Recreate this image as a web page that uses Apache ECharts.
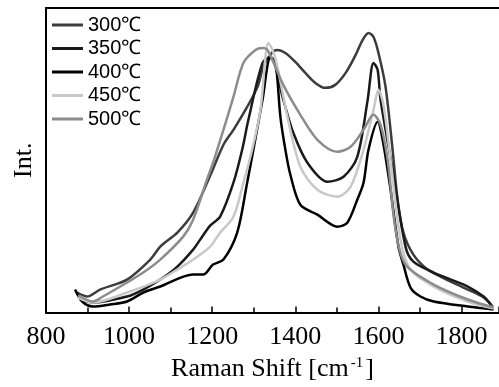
<!DOCTYPE html>
<html>
<head>
<meta charset="utf-8">
<script src="https://cdn.jsdelivr.net/npm/echarts@6/dist/echarts.min.js"></script>
<style>html,body{margin:0;padding:0;background:#fff;}#c{width:499px;height:387px;}</style>
</head>
<body>
<div id="c"></div>
<script>
// Legend labels
const seriesNames = ['300℃', '350℃', '400℃', '450℃', '500℃'];

// Raman shift (cm-1) and intensity (arb.) per series
const wn300  = [875, 899, 930, 995, 1051, 1075, 1116, 1154, 1195, 1227, 1251, 1284, 1309, 1323, 1345, 1357, 1376, 1400, 1424, 1448, 1472, 1496, 1521, 1545, 1562, 1576, 1588, 1600, 1617, 1634, 1646, 1660, 1684, 1718, 1749, 1815, 1853, 1875];
const int300 = [20, 16, 23, 33, 53, 66, 80, 100, 137, 168, 183, 206, 226, 246, 261, 263, 260, 251, 240, 230, 225, 228, 240, 258, 273, 280, 276, 260, 226, 163, 113, 80, 58, 43, 36, 23, 15, 6];

const wn350  = [882, 913, 995, 1034, 1075, 1116, 1154, 1171, 1195, 1219, 1251, 1272, 1287, 1321, 1340, 1371, 1395, 1429, 1477, 1516, 1549, 1574, 1588, 1598, 1605, 1634, 1665, 1684, 1733, 1774, 1815, 1853, 1870];
const int350 = [13, 10, 16, 23, 33, 46, 63, 73, 87, 96, 130, 163, 193, 250, 256, 213, 180, 150, 131, 136, 156, 213, 250, 243, 213, 143, 66, 51, 40, 33, 26, 16, 8];

const wn400  = [870, 887, 913, 954, 995, 1034, 1075, 1154, 1178, 1202, 1227, 1260, 1284, 1299, 1321, 1340, 1352, 1364, 1376, 1388, 1412, 1453, 1501, 1525, 1549, 1564, 1576, 1598, 1610, 1629, 1648, 1660, 1677, 1701, 1733, 1815, 1877];
const int400 = [23, 11, 6, 8, 11, 20, 26, 38, 38, 48, 53, 80, 130, 163, 213, 255, 251, 196, 163, 138, 108, 98, 86, 90, 113, 130, 163, 191, 173, 123, 66, 48, 25, 16, 11, 6, 3];

const wn450  = [877, 913, 995, 1075, 1116, 1154, 1195, 1219, 1251, 1275, 1296, 1316, 1335, 1345, 1357, 1381, 1412, 1453, 1501, 1533, 1564, 1588, 1600, 1612, 1629, 1653, 1677, 1733, 1815, 1877];
const int450 = [15, 10, 20, 33, 43, 53, 66, 80, 96, 130, 163, 203, 270, 263, 246, 196, 146, 123, 116, 126, 163, 203, 223, 208, 153, 73, 43, 26, 11, 4];

const wn500  = [877, 913, 937, 995, 1034, 1075, 1130, 1154, 1188, 1202, 1227, 1251, 1275, 1304, 1321, 1333, 1371, 1412, 1453, 1501, 1533, 1564, 1588, 1605, 1622, 1641, 1665, 1733, 1815, 1877];
const int500 = [17, 11, 16, 30, 40, 53, 76, 93, 134, 150, 183, 216, 250, 263, 265, 263, 228, 198, 173, 161, 166, 183, 198, 188, 153, 83, 48, 28, 13, 5];

// X tick values
const xTicks = [800, 1000, 1200, 1400, 1600, 1800];

const colors = ['#3c3c3c', '#1a1a1a', '#000000', '#c8c8c8', '#8c8c8c'];
const allWn = [wn300, wn350, wn400, wn450, wn500];
const allInt = [int300, int350, int400, int450, int500];

const zip = (a, b) => a.map((v, i) => [v, b[i]]);

const chart = echarts.init(document.getElementById('c'), null, {renderer: 'canvas'});
const serif = 'Liberation Serif, Times New Roman, serif';

chart.setOption({
  animation: false,
  backgroundColor: '#ffffff',
  grid: {left: 46, top: 8, right: 0, bottom: 74, containLabel: false},
  legend: {
    orient: 'vertical',
    left: 52,
    top: 15,
    padding: 0,
    itemGap: 3.5,
    itemWidth: 31,
    itemHeight: 3,
    icon: 'rect',
    data: seriesNames,
    textStyle: {fontSize: 20, fontFamily: 'Liberation Sans Narrow, Liberation Sans, Arial, sans-serif', color: '#000'}
  },
  xAxis: [{
    type: 'value',
    min: 800,
    max: 1890,
    interval: 200,
    position: 'bottom',
    splitLine: {show: false},
    axisLine: {show: true, onZero: false, lineStyle: {color: '#000', width: 2}},
    axisTick: {show: true, inside: true, length: 6, lineStyle: {color: '#000', width: 1.5}},
    minorTick: {show: true, splitNumber: 2, length: 5, lineStyle: {color: '#000', width: 1.5}},
    axisLabel: {
      show: true, margin: 12, fontSize: 26, fontFamily: serif, color: '#000', showMaxLabel: false,
      formatter: v => (xTicks.indexOf(v) >= 0 ? String(v) : '')
    },
    name: '{a|Raman Shift [cm}{s|-1}{a|]}',
    nameLocation: 'middle',
    nameGap: 43,
    nameTextStyle: {
      rich: {
        a: {fontSize: 26, fontFamily: serif, color: '#000'},
        s: {fontSize: 15, fontFamily: serif, color: '#000', verticalAlign: 'top', padding: [0, 2, 12, 2]}
      }
    }
  }, {
    type: 'value',
    min: 800,
    max: 1890,
    position: 'top',
    splitLine: {show: false},
    axisLine: {show: true, onZero: false, lineStyle: {color: '#000', width: 2}},
    axisTick: {show: false},
    axisLabel: {show: false}
  }],
  yAxis: {
    type: 'value',
    min: 0,
    max: 305,
    splitLine: {show: false},
    axisLine: {show: true, onZero: false, lineStyle: {color: '#000', width: 2}},
    axisTick: {show: false},
    axisLabel: {show: false},
    name: 'Int.',
    nameLocation: 'middle',
    nameGap: 9,
    nameTextStyle: {fontSize: 26, fontFamily: serif, color: '#000'}
  },
  series: seriesNames.map((n, i) => ({
    name: n,
    type: 'line',
    xAxisIndex: 0,
    data: zip(allWn[i], allInt[i]),
    showSymbol: false,
    symbol: 'none',
    smooth: 0.3,
    lineStyle: {color: colors[i], width: 2.5},
    itemStyle: {color: colors[i]}
  }))
});
</script>
</body>
</html>
